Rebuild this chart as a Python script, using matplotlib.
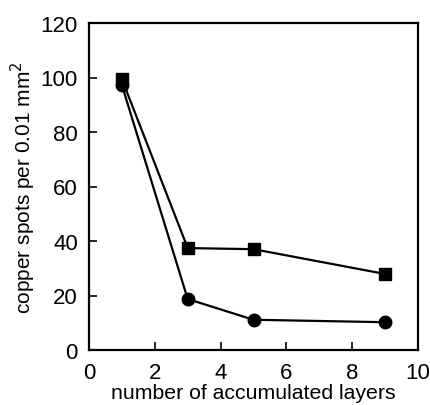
import matplotlib
matplotlib.use("Agg")
import matplotlib.pyplot as plt

plt.rcParams['font.family'] = ['Liberation Sans', 'DejaVu Sans']

# Datos
capas = [1, 3, 5, 9]
cuadrados = [99.4, 37.4, 37.0, 27.9]
circulos = [97.2, 18.7, 11.1, 10.2]

fig = plt.figure(figsize=(4.31, 4.06), dpi=100)
ax = fig.add_axes([89 / 431, 55 / 406, 329 / 431, 327 / 406])

ax.plot(capas, cuadrados, color="black", lw=1.6, marker="s", ms=9)
ax.plot(capas, circulos, color="black", lw=1.6, marker="o", ms=9)

ax.set_xlim(0, 10)
ax.set_ylim(0, 120)
ax.set_xticks([0, 2, 4, 6, 8, 10])
ax.set_yticks([0, 20, 40, 60, 80, 100, 120])
ax.tick_params(direction="in", labelsize=16, width=1.2, length=6, pad=8)
ax.tick_params(axis="x", pad=9)
for s in ax.spines.values():
    s.set_linewidth(1.6)

ax.set_xlabel("number of accumulated layers", fontsize=15.3, labelpad=0)
ax.set_ylabel("copper spots per 0.01 mm$^2$", fontsize=15, labelpad=2)

fig.savefig("out.png", dpi=100)
